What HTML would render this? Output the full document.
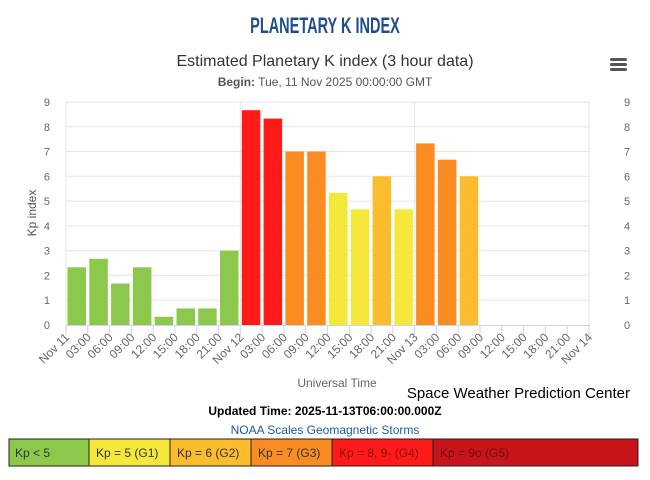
<!DOCTYPE html>
<html><head><meta charset="utf-8"><style>
body{margin:0;background:#fff;width:650px;height:475px;overflow:hidden;font-family:"Liberation Sans",sans-serif}
</style></head><body>
<svg width="650" height="475" xmlns="http://www.w3.org/2000/svg" font-family="Liberation Sans, sans-serif">
<text x="325" y="33" text-anchor="middle" font-size="22" font-weight="bold" fill="#1f4e8c" transform="translate(325,0) scale(0.66,1) translate(-325,0)">PLANETARY K INDEX</text>
<text x="325" y="66" text-anchor="middle" font-size="16" fill="#333">Estimated Planetary K index (3 hour data)</text>
<text x="325" y="86" text-anchor="middle" font-size="12" fill="#555"><tspan font-weight="bold">Begin:</tspan> Tue, 11 Nov 2025 00:00:00 GMT</text>
<g fill="#555"><rect x="610" y="58" width="17" height="3" rx="1.5"/><rect x="610" y="63" width="17" height="3" rx="1.5"/><rect x="610" y="68" width="17" height="3" rx="1.5"/></g>
<g stroke="#e6e6e6" stroke-width="1">
<line x1="66" x2="590" y1="300.2" y2="300.2"/><line x1="66" x2="590" y1="275.4" y2="275.4"/><line x1="66" x2="590" y1="250.7" y2="250.7"/><line x1="66" x2="590" y1="225.9" y2="225.9"/><line x1="66" x2="590" y1="201.1" y2="201.1"/><line x1="66" x2="590" y1="176.3" y2="176.3"/><line x1="66" x2="590" y1="151.5" y2="151.5"/><line x1="66" x2="590" y1="126.8" y2="126.8"/><line x1="66" x2="590" y1="102" y2="102"/>
<line x1="66" x2="66" y1="102" y2="325"/><line x1="240.3" x2="240.3" y1="102" y2="325"/><line x1="414.6" x2="414.6" y1="102" y2="325"/><line x1="589" x2="589" y1="102" y2="325"/>
</g>
<g>
<rect x="67.5" y="267.3" width="18.5" height="57.7" fill="#8cc84b"/>
<rect x="89.3" y="258.8" width="18.5" height="66.2" fill="#8cc84b"/>
<rect x="111.1" y="283.6" width="18.5" height="41.4" fill="#8cc84b"/>
<rect x="132.9" y="267.3" width="18.5" height="57.7" fill="#8cc84b"/>
<rect x="154.7" y="316.8" width="18.5" height="8.2" fill="#8cc84b"/>
<rect x="176.5" y="308.4" width="18.5" height="16.6" fill="#8cc84b"/>
<rect x="198.2" y="308.4" width="18.5" height="16.6" fill="#8cc84b"/>
<rect x="220.0" y="250.7" width="18.5" height="74.3" fill="#8cc84b"/>
<rect x="241.8" y="110.2" width="18.5" height="214.8" fill="#ff1a1a"/>
<rect x="263.6" y="118.6" width="18.5" height="206.4" fill="#ff1a1a"/>
<rect x="285.4" y="151.5" width="18.5" height="173.5" fill="#fa8c22"/>
<rect x="307.2" y="151.5" width="18.5" height="173.5" fill="#fa8c22"/>
<rect x="329.0" y="192.9" width="18.5" height="132.1" fill="#f5e83a"/>
<rect x="350.8" y="209.3" width="18.5" height="115.7" fill="#f5e83a"/>
<rect x="372.6" y="176.3" width="18.5" height="148.7" fill="#fbbd2e"/>
<rect x="394.4" y="209.3" width="18.5" height="115.7" fill="#f5e83a"/>
<rect x="416.1" y="143.4" width="18.5" height="181.6" fill="#fa8c22"/>
<rect x="437.9" y="159.7" width="18.5" height="165.3" fill="#fa8c22"/>
<rect x="459.7" y="176.3" width="18.5" height="148.7" fill="#fbbd2e"/>
</g>
<line x1="66" x2="590" y1="325.5" y2="325.5" stroke="#ccd6eb"/>
<g stroke="#ccd6eb">
<line x1="66" x2="66" y1="325" y2="335"/><line x1="87.8" x2="87.8" y1="325" y2="335"/><line x1="109.6" x2="109.6" y1="325" y2="335"/><line x1="131.4" x2="131.4" y1="325" y2="335"/><line x1="153.2" x2="153.2" y1="325" y2="335"/><line x1="174.9" x2="174.9" y1="325" y2="335"/><line x1="196.7" x2="196.7" y1="325" y2="335"/><line x1="218.5" x2="218.5" y1="325" y2="335"/><line x1="240.3" x2="240.3" y1="325" y2="335"/><line x1="262.1" x2="262.1" y1="325" y2="335"/><line x1="283.9" x2="283.9" y1="325" y2="335"/><line x1="305.7" x2="305.7" y1="325" y2="335"/><line x1="327.5" x2="327.5" y1="325" y2="335"/><line x1="349.3" x2="349.3" y1="325" y2="335"/><line x1="371.1" x2="371.1" y1="325" y2="335"/><line x1="392.8" x2="392.8" y1="325" y2="335"/><line x1="414.6" x2="414.6" y1="325" y2="335"/><line x1="436.4" x2="436.4" y1="325" y2="335"/><line x1="458.2" x2="458.2" y1="325" y2="335"/><line x1="480" x2="480" y1="325" y2="335"/><line x1="501.8" x2="501.8" y1="325" y2="335"/><line x1="523.6" x2="523.6" y1="325" y2="335"/><line x1="545.4" x2="545.4" y1="325" y2="335"/><line x1="567.2" x2="567.2" y1="325" y2="335"/><line x1="589" x2="589" y1="325" y2="335"/>
</g>
<g font-size="11" fill="#666" text-anchor="end">
<text x="50" y="329">0</text><text x="50" y="304.2">1</text><text x="50" y="279.4">2</text><text x="50" y="254.7">3</text><text x="50" y="229.9">4</text><text x="50" y="205.1">5</text><text x="50" y="180.3">6</text><text x="50" y="155.5">7</text><text x="50" y="130.8">8</text><text x="50" y="106">9</text>
</g>
<g font-size="11" fill="#666">
<text x="624" y="329">0</text><text x="624" y="304.2">1</text><text x="624" y="279.4">2</text><text x="624" y="254.7">3</text><text x="624" y="229.9">4</text><text x="624" y="205.1">5</text><text x="624" y="180.3">6</text><text x="624" y="155.5">7</text><text x="624" y="130.8">8</text><text x="624" y="106">9</text>
</g>
<g font-size="12" fill="#666" text-anchor="end">
<text transform="translate(70,338) rotate(-45)">Nov 11</text>
<text transform="translate(91.8,338) rotate(-45)">03:00</text>
<text transform="translate(113.6,338) rotate(-45)">06:00</text>
<text transform="translate(135.4,338) rotate(-45)">09:00</text>
<text transform="translate(157.2,338) rotate(-45)">12:00</text>
<text transform="translate(178.9,338) rotate(-45)">15:00</text>
<text transform="translate(200.7,338) rotate(-45)">18:00</text>
<text transform="translate(222.5,338) rotate(-45)">21:00</text>
<text transform="translate(244.3,338) rotate(-45)">Nov 12</text>
<text transform="translate(266.1,338) rotate(-45)">03:00</text>
<text transform="translate(287.9,338) rotate(-45)">06:00</text>
<text transform="translate(309.7,338) rotate(-45)">09:00</text>
<text transform="translate(331.5,338) rotate(-45)">12:00</text>
<text transform="translate(353.3,338) rotate(-45)">15:00</text>
<text transform="translate(375.1,338) rotate(-45)">18:00</text>
<text transform="translate(396.8,338) rotate(-45)">21:00</text>
<text transform="translate(418.6,338) rotate(-45)">Nov 13</text>
<text transform="translate(440.4,338) rotate(-45)">03:00</text>
<text transform="translate(462.2,338) rotate(-45)">06:00</text>
<text transform="translate(484,338) rotate(-45)">09:00</text>
<text transform="translate(505.8,338) rotate(-45)">12:00</text>
<text transform="translate(527.6,338) rotate(-45)">15:00</text>
<text transform="translate(549.4,338) rotate(-45)">18:00</text>
<text transform="translate(571.2,338) rotate(-45)">21:00</text>
<text transform="translate(593,338) rotate(-45)">Nov 14</text>
</g>
<text font-size="12" fill="#555" text-anchor="middle" transform="translate(36,213) rotate(-90)">Kp index</text>
<text x="337" y="387" text-anchor="middle" font-size="12" fill="#666">Universal Time</text>
<text x="630" y="398" text-anchor="end" font-size="15" fill="#000">Space Weather Prediction Center</text>
<text x="325" y="415" text-anchor="middle" font-size="12" font-weight="bold" fill="#000">Updated Time: 2025-11-13T06:00:00.000Z</text>
<text x="325" y="434" text-anchor="middle" font-size="12" fill="#1f5aa0">NOAA Scales Geomagnetic Storms</text>
<g stroke="#222">
<rect x="9" y="439" width="80" height="27" fill="#8cc84b"/>
<rect x="89" y="439" width="81" height="27" fill="#f5e83a"/>
<rect x="170" y="439" width="81" height="27" fill="#fbbd2e"/>
<rect x="251" y="439" width="81" height="27" fill="#fa8c22"/>
<rect x="332" y="439" width="101" height="27" fill="#ff1a1a"/>
<rect x="433" y="439" width="205" height="27" fill="#c8141a"/>
</g>
<g font-size="12" fill="#333">
<text x="15" y="457">Kp &lt; 5</text>
<text x="96" y="457">Kp = 5 (G1)</text>
<text x="177" y="457">Kp = 6 (G2)</text>
<text x="258" y="457">Kp = 7 (G3)</text>
<text x="339" y="457" fill="#8a1010">Kp = 8, 9- (G4)</text>
<text x="440" y="457" fill="#6a1010">Kp = 9o (G5)</text>
</g>
</svg>
</body></html>
